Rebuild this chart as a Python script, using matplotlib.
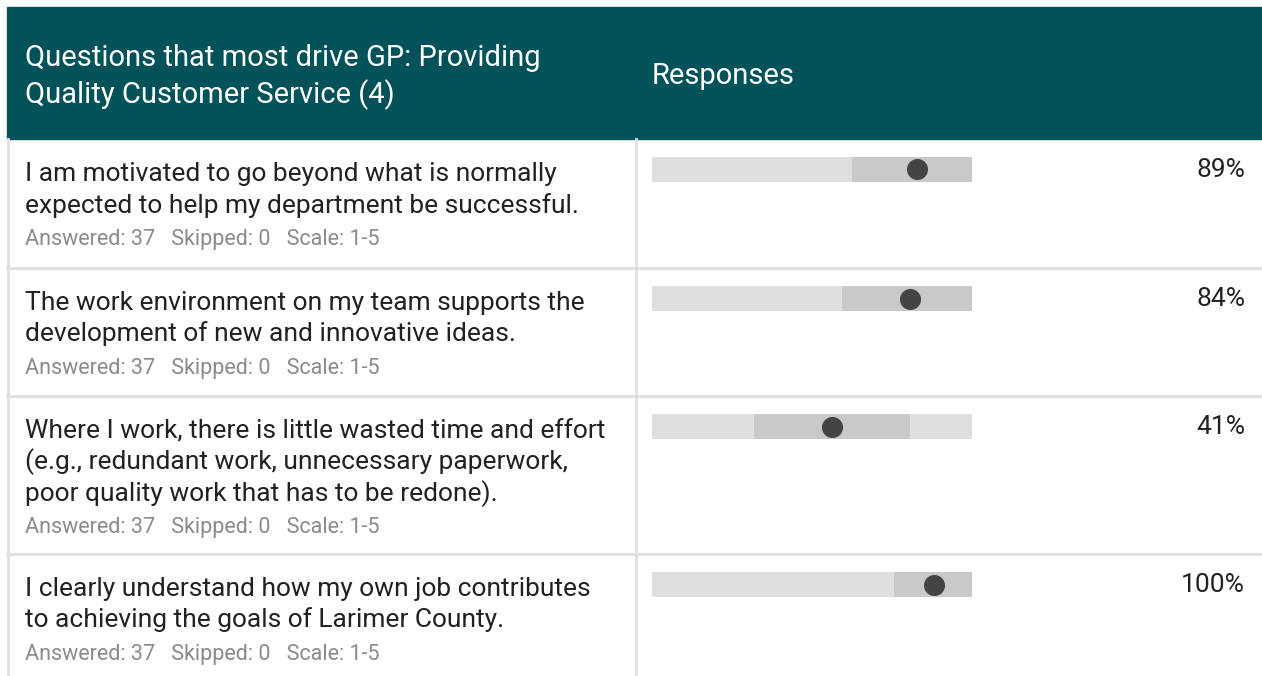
import matplotlib.pyplot as plt
from matplotlib.patches import Rectangle

plt.rcParams['font.family'] = ['Roboto', 'DejaVu Sans']

# Data
header_title = ["Questions that most drive GP: Providing", "Quality Customer Service (4)"]
header_resp = "Responses"
questions = [
    ["I am motivated to go beyond what is normally",
     "expected to help my department be successful."],
    ["The work environment on my team supports the",
     "development of new and innovative ideas."],
    ["Where I work, there is little wasted time and effort",
     "(e.g., redundant work, unnecessary paperwork,",
     "poor quality work that has to be redone)."],
    ["I clearly understand how my own job contributes",
     "to achieving the goals of Larimer County."],
]
answered = [37, 37, 37, 37]
skipped = [0, 0, 0, 0]
scale_min, scale_max = 1, 5
means = [4.31, 4.23, 3.25, 4.53]
stds = [0.81, 0.86, 0.98, 0.50]
percents = [89, 84, 41, 100]

# Layout (pixels)
W, H = 1262, 676
row_tops = [139, 268, 396, 554]
header_color = '#02525a'
grid_color = '#e0e0e0'

fig = plt.figure(figsize=(W / 100, H / 100), dpi=100)
bg = fig.add_axes([0, 0, 1, 1])
bg.set_xlim(0, W)
bg.set_ylim(H, 0)
bg.axis('off')

# header band
bg.add_patch(Rectangle((7, 7), W - 7, 132, color=header_color, zorder=1))
for k, line in enumerate(header_title):
    bg.text(25, 66 + k * 37, line, color='white', fontsize=21, va='baseline', ha='left')
bg.text(652, 84, header_resp, color='white', fontsize=21, va='baseline', ha='left')

# grid lines
for y in row_tops[1:]:
    bg.plot([7, W], [y, y], color=grid_color, lw=2, zorder=2)
bg.plot([8, 8], [139, H], color=grid_color, lw=2, zorder=2)
bg.plot([636, 636], [139, H], color=grid_color, lw=2, zorder=2)

for i, q in enumerate(questions):
    top = row_tops[i]
    base = top + 42
    for k, line in enumerate(q):
        bg.text(25, base + k * 31.5, line, color='#212121', fontsize=19,
                va='baseline', ha='left')
    sub_y = base + len(q) * 31.5 + 1
    bg.text(25, sub_y, f"Answered: {answered[i]}   Skipped: {skipped[i]}   Scale: {scale_min}-{scale_max}",
            color='#8a8a8a', fontsize=15.5, va='baseline', ha='left')
    bg.text(1245, top + 38, f"{percents[i]}%", color='#212121', fontsize=19,
            va='baseline', ha='right')

    # bar for this row
    bar_top = top + 18
    ax = fig.add_axes([652 / W, 1 - (bar_top + 25) / H, 320 / W, 25 / H])
    ax.set_xlim(scale_min, scale_max)
    ax.set_ylim(0, 1)
    ax.axis('off')
    ax.barh(0.5, scale_max - scale_min, left=scale_min, height=1, color='#dfdfdf')
    lo = max(scale_min, means[i] - stds[i])
    hi = min(scale_max, means[i] + stds[i])
    ax.barh(0.5, hi - lo, left=lo, height=1, color='#c9c9c9')
    ax.scatter([means[i]], [0.5], s=200, color='#444444', zorder=3, clip_on=False)

fig.savefig('out.png', dpi=100)
